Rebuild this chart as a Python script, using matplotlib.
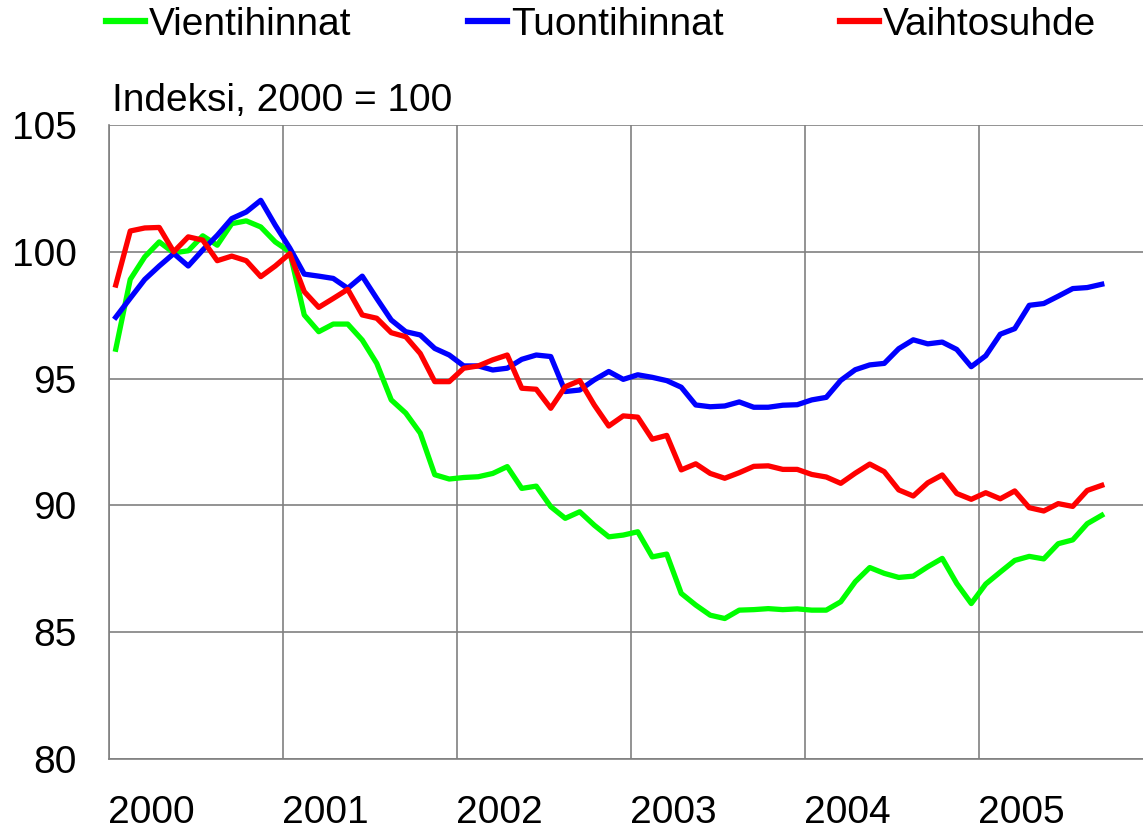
import matplotlib
matplotlib.use("Agg")
import matplotlib.pyplot as plt
import numpy as np

plt.rcParams['font.family'] = ['Liberation Sans', 'DejaVu Sans']

# Kuukausittaiset indeksit, tammikuu 2000 - syyskuu 2005
vienti = [96.16, 98.91, 99.80, 100.39, 99.96, 100.04, 100.63, 100.26, 101.11, 101.22, 100.98, 100.39,
          100.0, 97.51, 96.85, 97.15, 97.15, 96.52, 95.60, 94.16, 93.64, 92.85, 91.21, 91.04,
          91.10, 91.13, 91.26, 91.53, 90.67, 90.76, 89.95, 89.49, 89.75, 89.22, 88.76, 88.83,
          88.96, 87.97, 88.08, 86.53, 86.07, 85.67, 85.54, 85.87, 85.89, 85.93, 85.89, 85.92,
          85.87, 85.87, 86.20, 86.99, 87.55, 87.32, 87.16, 87.21, 87.58, 87.91, 86.92, 86.13,
          86.90, 87.37, 87.83, 87.99, 87.89, 88.49, 88.64, 89.28, 89.61]
tuonti = [97.42, 98.17, 98.91, 99.44, 99.93, 99.44, 100.07, 100.65, 101.31, 101.57, 102.03, 101.05,
          100.15, 99.12, 99.04, 98.95, 98.56, 99.04, 98.16, 97.31, 96.85, 96.72, 96.19, 95.93,
          95.50, 95.50, 95.34, 95.41, 95.76, 95.93, 95.87, 94.49, 94.55, 94.95, 95.28, 94.97,
          95.15, 95.05, 94.92, 94.66, 93.96, 93.89, 93.92, 94.08, 93.87, 93.87, 93.95, 93.97,
          94.16, 94.26, 94.93, 95.35, 95.54, 95.60, 96.18, 96.53, 96.37, 96.44, 96.15, 95.47,
          95.90, 96.75, 96.97, 97.89, 97.96, 98.25, 98.55, 98.59, 98.72]
vaihto = [98.69, 100.82, 100.94, 100.96, 100.0, 100.59, 100.46, 99.65, 99.83, 99.65, 99.02, 99.44,
          99.93, 98.43, 97.81, 98.16, 98.52, 97.51, 97.38, 96.81, 96.65, 95.99, 94.88, 94.88,
          95.41, 95.50, 95.74, 95.93, 94.62, 94.58, 93.83, 94.68, 94.92, 93.96, 93.13, 93.53,
          93.48, 92.61, 92.76, 91.40, 91.64, 91.26, 91.07, 91.29, 91.54, 91.56, 91.42, 91.42,
          91.22, 91.12, 90.87, 91.27, 91.63, 91.33, 90.61, 90.37, 90.89, 91.20, 90.47, 90.24,
          90.50, 90.26, 90.57, 89.91, 89.78, 90.07, 89.96, 90.59, 90.79]
vuodet = ['2000', '2001', '2002', '2003', '2004', '2005']
sarjat = ['Vientihinnat', 'Tuontihinnat', 'Vaihtosuhde']

fig = plt.figure(figsize=(11.43, 8.33), dpi=100)
ax = fig.add_axes([108.5 / 1143, 1 - 759 / 833, 1 - 108.5 / 1143, (759 - 125) / 833])

x = np.arange(len(vienti))
ax.plot(x, vienti, color='#00ff00', lw=3.8, label=sarjat[0], solid_joinstyle='round')
ax.plot(x, tuonti, color='#0000ff', lw=3.8, label=sarjat[1], solid_joinstyle='round')
ax.plot(x, vaihto, color='#ff0000', lw=3.8, label=sarjat[2], solid_joinstyle='round')

ax.set_xlim(-0.5, -0.5 + (1143 - 108.5) / 14.5)
ax.set_ylim(80, 105)
ax.set_yticks([80, 85, 90, 95, 100, 105])
ax.set_xticks([12 * i - 0.5 for i in range(len(vuodet))])
ax.set_xticklabels(vuodet)
for lab in ax.get_xticklabels():
    lab.set_ha('left')
ax.tick_params(length=0, labelsize=28)
ax.tick_params(axis='y', pad=23)
ax.tick_params(axis='x', pad=26)
ax.grid(True, color='#808080', lw=1.2)
ax.set_axisbelow(True)
for s in ['top', 'right']:
    ax.spines[s].set_visible(False)
for s in ['left', 'bottom']:
    ax.spines[s].set_color('#808080')
    ax.spines[s].set_linewidth(1.2)

fig.text(112 / 1143, 1 - 101 / 833, 'Indeksi, 2000 = 100', fontsize=28, va='center')

leg = fig.legend(loc='center left', bbox_to_anchor=(106 / 1143, 1 - 25 / 833), ncol=3,
                 frameon=False, fontsize=28, handlelength=1.0, handletextpad=0.1,
                 columnspacing=3.0, borderpad=0, borderaxespad=0)
for h in leg.get_lines():
    h.set_linewidth(4.5)

fig.savefig('out.png', dpi=100)
